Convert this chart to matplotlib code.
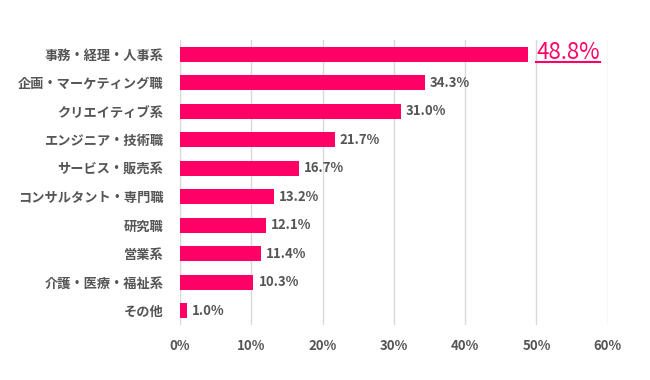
import matplotlib
matplotlib.use("Agg")
import matplotlib.pyplot as plt
from matplotlib.lines import Line2D

plt.rcParams["font.family"] = ["Noto Sans CJK JP", "DejaVu Sans"]

categories = [
    "事務・経理・人事系",
    "企画・マーケティング職",
    "クリエイティブ系",
    "エンジニア・技術職",
    "サービス・販売系",
    "コンサルタント・専門職",
    "研究職",
    "営業系",
    "介護・医療・福祉系",
    "その他",
]
values = [48.8, 34.3, 31.0, 21.7, 16.7, 13.2, 12.1, 11.4, 10.3, 1.0]
ticks = [0, 10, 20, 30, 40, 50, 60]

pink = "#FF0066"
text_gray = "#555555"

fig = plt.figure(figsize=(6.5, 3.8), dpi=100)
ax = fig.add_axes([0.277, 0.145, 0.658, 0.75])

y = list(range(len(categories)))
ax.barh(y, values, height=0.53, color=pink, zorder=3)
ax.set_ylim(len(categories) - 0.5, -0.5)
ax.set_xlim(0, 60)
ax.set_xticks(ticks)
ax.set_xticklabels([f"{t}%" for t in ticks])
ax.set_yticks(y)
ax.set_yticklabels(categories)

ax.tick_params(axis="both", length=0, colors=text_gray, labelsize=9.5)
ax.tick_params(axis="y", pad=12)
ax.tick_params(axis="x", pad=10)
for lab in ax.get_yticklabels() + ax.get_xticklabels():
    lab.set_fontweight("bold")
for s in ax.spines.values():
    s.set_visible(False)
ax.grid(axis="x", color="#d9d9d9", linewidth=1, zorder=0)

top_txt = None
for i, v in enumerate(values):
    if i == 0:
        top_txt = ax.text(v + 1.2, i - 0.05, f"{v:.1f}%", va="center", ha="left",
                          fontsize=16, color=pink)
    else:
        ax.text(v + 0.7, i, f"{v:.1f}%", va="center", ha="left",
                fontsize=9.5, fontweight="bold", color=text_gray)

# underline for the top value
fig.canvas.draw()
bb = top_txt.get_window_extent()
inv = fig.transFigure.inverted()
(x0, y0), (x1, _) = inv.transform([(bb.x0, bb.y0 + 2), (bb.x1, bb.y0)])
fig.add_artist(Line2D([x0, x1], [y0, y0], color=pink, linewidth=1.5,
                      transform=fig.transFigure))

fig.savefig("out.png", dpi=100)
